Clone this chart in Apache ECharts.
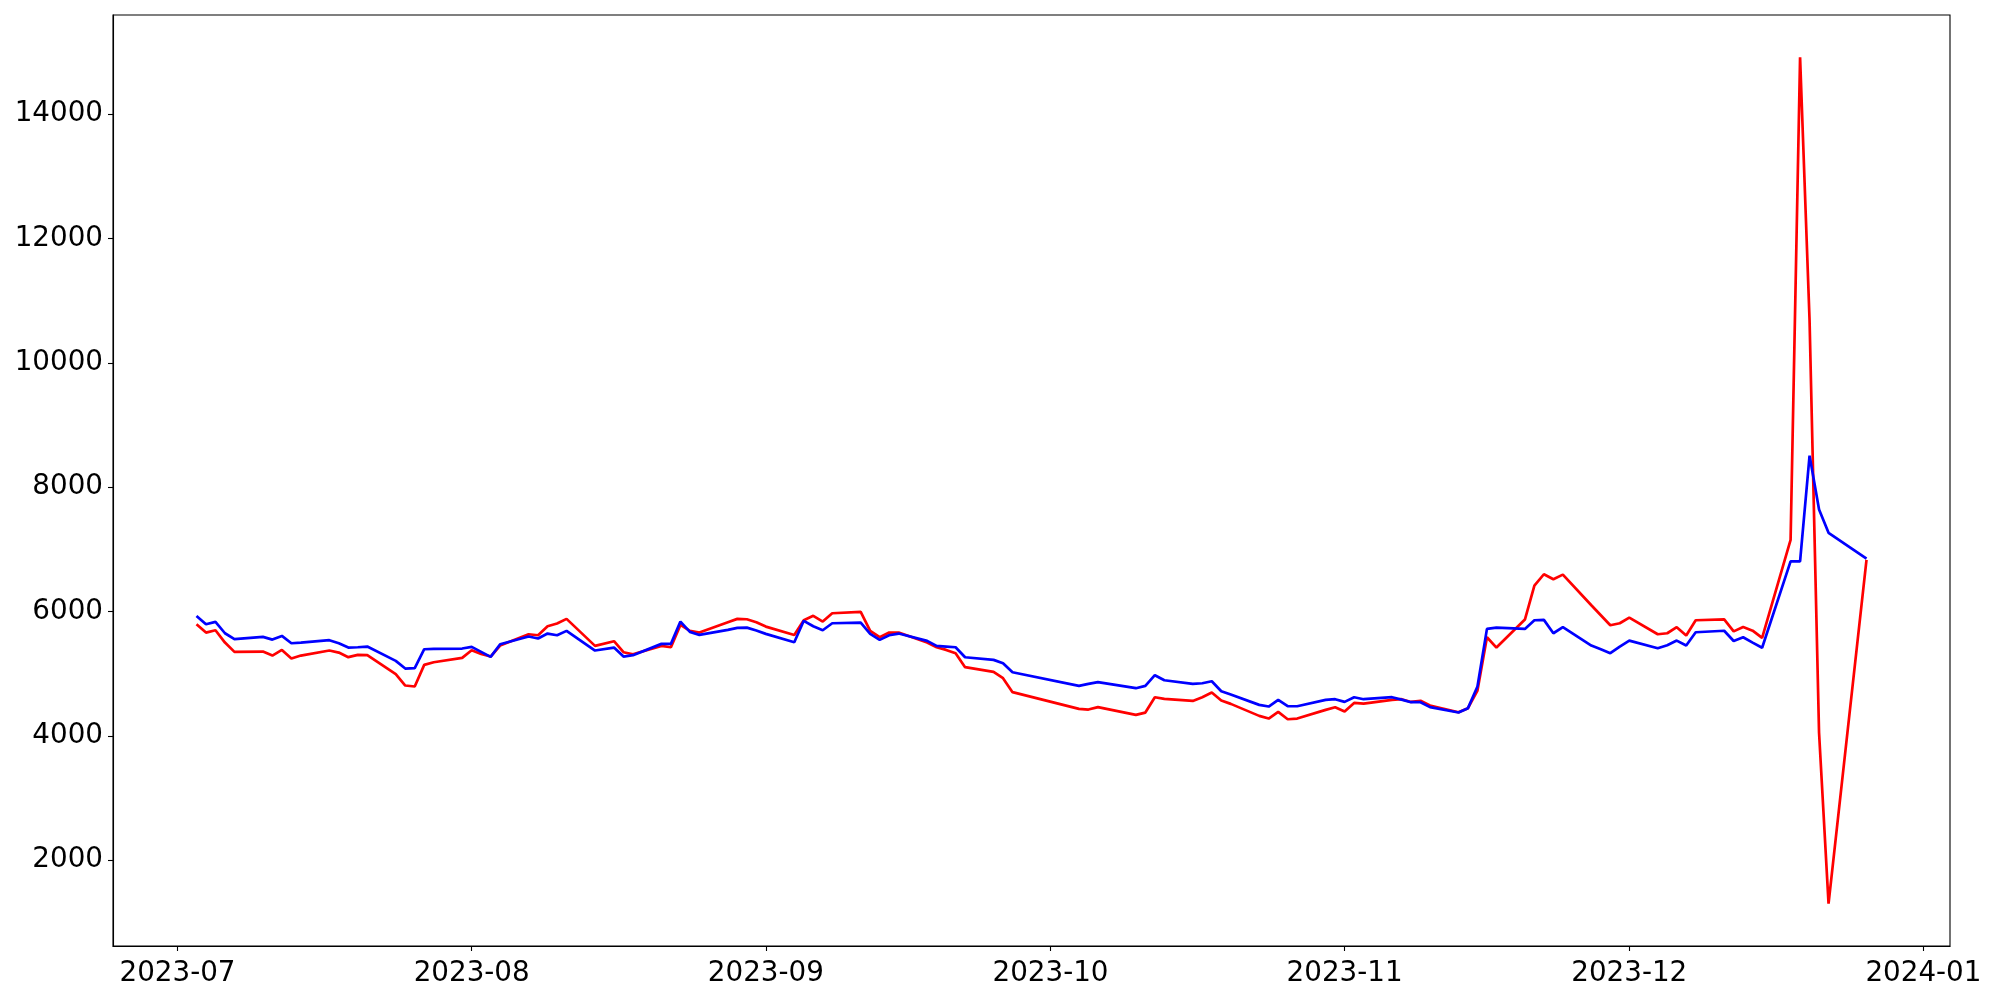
<!DOCTYPE html>
<html>
<head>
<meta charset="utf-8">
<script src="https://cdn.jsdelivr.net/npm/echarts@6/dist/echarts.min.js"></script>
<style>html,body{margin:0;padding:0;background:#fff}#chart{width:2000px;height:1000px}</style>
</head>
<body>
<div id="chart"></div>
<script>
// Trading days (KRX calendar), 2023-07-03 .. 2023-12-26
const dates = [
  '2023-07-03','2023-07-04','2023-07-05','2023-07-06','2023-07-07','2023-07-10','2023-07-11','2023-07-12','2023-07-13','2023-07-14',
  '2023-07-17','2023-07-18','2023-07-19','2023-07-20','2023-07-21','2023-07-24','2023-07-25','2023-07-26','2023-07-27','2023-07-28','2023-07-31',
  '2023-08-01','2023-08-02','2023-08-03','2023-08-04','2023-08-07','2023-08-08','2023-08-09','2023-08-10','2023-08-11','2023-08-14',
  '2023-08-16','2023-08-17','2023-08-18','2023-08-21','2023-08-22','2023-08-23','2023-08-24','2023-08-25','2023-08-28','2023-08-29','2023-08-30','2023-08-31',
  '2023-09-01','2023-09-04','2023-09-05','2023-09-06','2023-09-07','2023-09-08','2023-09-11','2023-09-12','2023-09-13','2023-09-14','2023-09-15',
  '2023-09-18','2023-09-19','2023-09-20','2023-09-21','2023-09-22','2023-09-25','2023-09-26','2023-09-27',
  '2023-10-04','2023-10-05','2023-10-06','2023-10-10','2023-10-11','2023-10-12','2023-10-13','2023-10-16','2023-10-17','2023-10-18','2023-10-19','2023-10-20',
  '2023-10-23','2023-10-24','2023-10-25','2023-10-26','2023-10-27','2023-10-30','2023-10-31',
  '2023-11-01','2023-11-02','2023-11-03','2023-11-06','2023-11-07','2023-11-08','2023-11-09','2023-11-10','2023-11-13','2023-11-14','2023-11-15','2023-11-16','2023-11-17',
  '2023-11-20','2023-11-21','2023-11-22','2023-11-23','2023-11-24','2023-11-27','2023-11-28','2023-11-29','2023-11-30',
  '2023-12-01','2023-12-04','2023-12-05','2023-12-06','2023-12-07','2023-12-08','2023-12-11','2023-12-12','2023-12-13','2023-12-14','2023-12-15',
  '2023-12-18','2023-12-19','2023-12-20','2023-12-21','2023-12-22','2023-12-26'
];

const redValues = [
  5795,5661,5698,5500,5350,5356,5291,5382,5243,5291,5372,5339,5265,5302,5297,4991,4809,4793,5141,5184,5254,
  5377,5318,5275,5452,5634,5618,5763,5806,5881,5447,5522,5345,5313,5447,5425,5784,5688,5661,5827,5881,5875,5827,
  5757,5623,5860,5930,5838,5972,5993,5688,5586,5661,5661,5500,5425,5382,5329,5104,5029,4927,4702,
  4434,4423,4461,4337,4374,4621,4594,4562,4621,4696,4567,4514,4321,4278,4385,4267,4278,4417,4460,
  4391,4530,4519,4578,4589,4545,4563,4488,4380,4445,4729,5586,5420,5870,6417,6599,6518,6593,6100,5940,5779,5811,
  5902,5634,5650,5747,5613,5859,5872,5680,5750,5692,5575,7150,14914,10680,4050,1300,6830
];

const blueValues = [
  5929,5795,5832,5650,5554,5591,5548,5607,5489,5500,5538,5489,5420,5425,5436,5205,5082,5088,5393,5398,5404,
  5430,5350,5270,5473,5597,5565,5645,5618,5688,5372,5420,5275,5297,5479,5479,5838,5672,5623,5704,5736,5741,5693,
  5640,5506,5850,5762,5698,5811,5822,5640,5543,5618,5645,5527,5447,5436,5425,5264,5222,5168,5023,
  4804,4836,4863,4766,4803,4975,4894,4835,4846,4878,4717,4664,4498,4471,4578,4476,4476,4578,4589,
  4546,4621,4589,4621,4583,4541,4541,4461,4375,4445,4793,5720,5741,5720,5859,5865,5650,5747,5452,5393,5329,5436,
  5532,5409,5457,5532,5452,5666,5690,5525,5585,5500,5416,6805,6805,8507,7641,7266,6850
];

const yTickValues = [2000, 4000, 6000, 8000, 10000, 12000, 14000];
const xTickLabels = ['2023-07','2023-08','2023-09','2023-10','2023-11','2023-12','2024-01'];

const DAY = 86400000;
function parseDay(s) { const p = s.split('-').map(Number); return Date.UTC(p[0], p[1] - 1, p[2]) / DAY; }
function parseMonth(s) { const p = s.split('-').map(Number); return Date.UTC(p[0], p[1] - 1, 1) / DAY; }

const days = dates.map(parseDay);
const xTickValues = xTickLabels.map(parseMonth);
const labelByDay = {};
xTickValues.forEach((t, i) => { labelByDay[t] = xTickLabels[i]; });

// matplotlib-like 5% margins
const tMin = Math.min(...days), tMax = Math.max(...days);
const allVals = redValues.concat(blueValues);
const vMin = Math.min(...allVals), vMax = Math.max(...allVals);
const xPad = (tMax - tMin) * 0.05, yPad = (vMax - vMin) * 0.05;

const font = 'DejaVu Sans';
const fs = 27.78;

const chart = echarts.init(document.getElementById('chart'), null, { renderer: 'canvas' });
chart.setOption({
  animation: false,
  backgroundColor: '#ffffff',
  grid: {
    left: 113, right: 50, top: 15, bottom: 54,
    show: true, borderColor: '#000000', borderWidth: 1.1,
    outerBoundsMode: 'none'
  },
  xAxis: {
    type: 'value',
    scale: true,
    min: tMin - xPad,
    max: tMax + xPad,
    axisLine: { show: true, lineStyle: { color: '#000', width: 1.1 } },
    axisTick: { show: true, length: 5, lineStyle: { color: '#000', width: 1.1 }, customValues: xTickValues },
    axisLabel: {
      show: true, margin: 14, color: '#000', fontFamily: font, fontSize: fs,
      customValues: xTickValues,
      formatter: function (v) { return labelByDay[v] !== undefined ? labelByDay[v] : ''; }
    },
    splitLine: { show: false }
  },
  yAxis: {
    type: 'value',
    scale: true,
    min: vMin - yPad,
    max: vMax + yPad,
    axisLine: { show: true, lineStyle: { color: '#000', width: 1.1 } },
    axisTick: { show: true, length: 5, lineStyle: { color: '#000', width: 1.1 }, customValues: yTickValues },
    axisLabel: {
      show: true, margin: 10, color: '#000', fontFamily: font, fontSize: fs,
      customValues: yTickValues,
      formatter: function (v) { return String(v); }
    },
    splitLine: { show: false }
  },
  series: [
    {
      name: 'red', type: 'line', showSymbol: false, symbol: 'none',
      data: days.map((t, i) => [t, redValues[i]]),
      lineStyle: { color: '#ff0000', width: 2.7 },
      itemStyle: { color: '#ff0000' },
      z: 2
    },
    {
      name: 'blue', type: 'line', showSymbol: false, symbol: 'none',
      data: days.map((t, i) => [t, blueValues[i]]),
      lineStyle: { color: '#0000ff', width: 2.7 },
      itemStyle: { color: '#0000ff' },
      z: 3
    }
  ]
});
</script>
</body>
</html>
